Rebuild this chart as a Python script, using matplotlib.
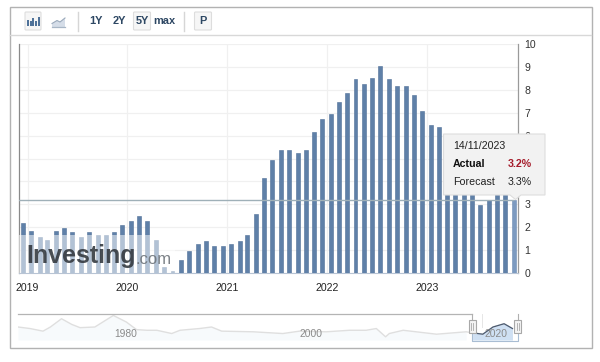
import matplotlib
matplotlib.use("Agg")
import matplotlib.pyplot as plt
from matplotlib.patches import Rectangle, Polygon, FancyBboxPatch
import pandas as pd
import numpy as np

plt.rcParams['font.family'] = ['Liberation Sans', 'DejaVu Sans']

# ---------- data ----------
values = [2.17, 1.85, 1.57, 1.45, 1.85, 1.96, 1.78, 1.57, 1.78, 1.66, 1.66, 1.78,
          2.08, 2.27, 2.47, 2.27, 1.45, 0.28, 0.09, 0.57, 0.96, 1.27, 1.38, 1.18,
          1.18, 1.27, 1.38, 1.66, 2.56, 4.15, 4.93, 5.37, 5.37, 5.26, 5.37, 6.16,
          6.74, 6.94, 7.45, 7.85, 8.47, 8.27, 8.53, 9.05, 8.46, 8.15, 8.15, 7.76,
          7.06, 6.46, 6.36, 5.6, 5.2, 4.6, 4.0, 2.95, 3.19, 3.5, 3.6, 3.2]
months = pd.date_range("2018-12-01", periods=len(values), freq="MS") + pd.Timedelta(days=13)
year_labels = [2019, 2020, 2021, 2022, 2023]
y_ticks = list(range(0, 11))
y_ticks_behind_tooltip = [4, 5]
crosshair_value = 3.2

nav_years = [1968.4, 1969.7, 1971.1, 1971.9, 1973.1, 1974.2, 1975.1, 1976.7, 1978.7,
             1980.1, 1981.2, 1982.3, 1983.4, 1985.0, 1985.9, 1988.0, 1989.3, 1990.4,
             1993.8, 1997.0, 1998.8, 2001.7, 2004.2, 2006.0, 2007.1, 2008.1, 2008.5,
             2010.0, 2011.4, 2013.6, 2016.8, 2017.5, 2018.6, 2019.7, 2020.9, 2021.8]
nav_values = [7.8, 7.1, 5.9, 7.8, 11.6, 9.0, 7.5, 7.8, 13.1,
              10.1, 6.6, 6.3, 6.3, 4.8, 6.3, 7.1, 7.8, 5.9,
              5.6, 4.8, 5.9, 5.6, 6.3, 6.3, 7.1, 3.3, 4.8,
              6.3, 5.6, 4.5, 5.6, 5.1, 4.5, 7.8, 9.3, 7.1]
nav_labels = [1980, 2000, 2020]
nav_sel_start = 2017.3

tip_date = "14/11/2023"
tip_actual = "3.2%"
tip_forecast = "3.3%"
range_buttons = ["1Y", "2Y", "5Y", "max"]

W, H = 600, 362
fig = plt.figure(figsize=(W / 100, H / 100), dpi=100, facecolor="white")


def axes_px(x0, y0, x1, y1, **kw):
    return fig.add_axes([x0 / W, 1 - y1 / H, (x1 - x0) / W, (y1 - y0) / H], **kw)


# ---------- main chart ----------
ax = axes_px(18.5, 44, 518, 273)
ax.set_zorder(2)
ax.patch.set_alpha(0)
ax.bar(months[:-1], values[:-1], width=14.5, color="#5f80a8", edgecolor="#4f6f97",
       linewidth=0.4, zorder=3)
ax.bar(months[-1:], values[-1:], width=14.5, color="#7c9ac0", edgecolor="#6d8cb3",
       linewidth=0.4, zorder=3)
ax.set_ylim(0, 10)
ax.set_xlim(pd.Timestamp("2018-11-29"), pd.Timestamp("2023-11-29"))
ax.set_xticks([pd.Timestamp(f"{y}-01-01") for y in year_labels])
ax.set_xticklabels([str(y) for y in year_labels], fontsize=7.6, color="#222222")
ax.yaxis.tick_right()
ax.set_yticks(y_ticks)
ax.set_yticklabels(["" if v in y_ticks_behind_tooltip else str(v) for v in y_ticks],
                   fontsize=7.6, color="#333333")
ax.tick_params(axis="x", length=0, pad=7.5)
ax.tick_params(axis="y", length=0, pad=4.5)
ax.grid(True, color="#f0f0f0", linewidth=0.9, zorder=0)
ax.set_axisbelow(True)
ax.spines["top"].set_visible(False)
ax.spines["left"].set_color("#8a8a8a")
ax.spines["right"].set_color("#9a9a9a")
ax.spines["bottom"].set_color("#b8c4d4")
ax.spines["left"].set_linewidth(0.9)
ax.spines["right"].set_linewidth(0.9)
ax.axhline(crosshair_value, color="#9fb0b8", linewidth=1.0, zorder=4, xmax=0.99)

# ---------- navigator ----------
nav = axes_px(18, 313.5, 518, 344)
nav.set_zorder(2)
nav.patch.set_alpha(0)
nav.set_xlim(1968.4, 2022.4)
nav.set_ylim(0, 14)
ny = np.array(nav_years)
nv = np.array(nav_values)
sel = ny >= nav_sel_start
nav.fill_between(ny[~sel], 1.8, nv[~sel], color="#f7fafc", linewidth=0)
nav.plot(ny, nv, color="#dfdfdf", linewidth=1.0, zorder=2)
nav.fill_between(ny[sel], 1.8, nv[sel], color="#cfe0f3", linewidth=0, zorder=3)
nav.plot(ny[sel], nv[sel], color="#4b5a70", linewidth=0.9, zorder=4)
nav.set_xticks(nav_labels)
nav.set_xticklabels([])
nav.set_yticks([])
for s in nav.spines.values():
    s.set_visible(False)
nav.tick_params(length=0)
for yr in nav_labels:
    nav.text(yr, 4.5, str(yr), ha="center", va="center", fontsize=7.4,
             color="#8a8a8a", zorder=5)

# ---------- overlay in pixel coordinates ----------
ov = axes_px(0, 0, W, H)
ov.set_zorder(5)
ov.set_xlim(0, W)
ov.set_ylim(H, 0)
ov.axis("off")
ov.patch.set_alpha(0)

# frame
ov.add_patch(Rectangle((9.5, 7), 582, 341, fill=False, edgecolor="#b2b2b2", linewidth=1.0))
ov.plot([10, 591], [34.5, 34.5], color="#d8d8d8", linewidth=1.0)

# toolbar
btn = dict(facecolor="#f6f6f6", edgecolor="#dddddd", linewidth=0.8)
for x0, x1 in [(24, 42), (132.5, 151.5), (193.5, 212.5)]:
    ov.add_patch(FancyBboxPatch((x0 + 1, 12), x1 - x0 - 2, 18,
                                boxstyle="round,pad=0,rounding_size=1", **btn))
for x, h in [(26.5, 6), (29.5, 5), (32, 7.5), (35, 5), (37.5, 9)]:
    ov.add_patch(Rectangle((x, 25.5 - h), 2, h, color="#4f7299", linewidth=0))
ov.add_patch(Polygon([(52, 27), (52, 23.5), (57, 20.5), (60, 22), (65, 18), (65, 27)],
                     facecolor="#d5dde8", edgecolor="none"))
ov.plot([52, 57, 60, 65], [23.5, 20.5, 22, 18], color="#9aa9bb", linewidth=0.8)
ov.plot([52, 65], [27, 27], color="#a8b6c6", linewidth=0.9)
for x in [77.5, 183.5]:
    ov.plot([x, x], [12, 31], color="#d6d6d6", linewidth=1.0)
for label, x in zip(range_buttons, [96.5, 119, 142, 164.5]):
    ov.text(x, 20.5, label, ha="center", va="center", fontsize=7.9, fontweight="bold",
            color="#2d4763")
ov.text(203, 20.5, "P", ha="center", va="center", fontsize=7.9, fontweight="bold",
        color="#2d4763")

# watermark
ov.add_patch(Rectangle((19, 235), 156, 37.5, facecolor="white", alpha=0.52, linewidth=0))
ov.text(26.5, 263.5, "Investing", ha="left", va="baseline", fontsize=18, fontweight="bold",
        color="#30353b", alpha=0.88)
ov.text(135.5, 263.5, ".com", ha="left", va="baseline", fontsize=12, color="#6f757b", alpha=0.9)

# navigator chrome
ov.plot([18, 472], [313.5, 313.5], color="#b4b4b4", linewidth=0.9)
ov.plot([472, 472, 517.5, 517.5], [327, 340.5, 340.5, 327], color="#a9bdd3", linewidth=0.8)
for x in [472, 517.5]:
    ov.plot([x, x], [313.5, 320], color="#b0b0b0", linewidth=0.8)
    ov.add_patch(Rectangle((x - 3.5, 320), 7, 13, facecolor="#f4f4f4", edgecolor="#a8a8a8",
                           linewidth=0.8, zorder=6))
    for dx in (-1, 1):
        ov.plot([x + dx, x + dx], [323, 330], color="#a8a8a8", linewidth=0.6, zorder=7)
ov.plot([482, 482], [313.5, 327], color="#e6e6e6", linewidth=0.7)

# tooltip
ov.add_patch(Polygon([(443.5, 134), (545, 134), (545, 195), (521, 195), (515.5, 199.5),
                      (510, 195), (443.5, 195)], closed=True,
                     facecolor="#f2f2f2", edgecolor="#dddddd", linewidth=0.8, zorder=8))
tc = "#222222"
ov.text(453, 146, tip_date, ha="left", va="center", fontsize=7.7, color=tc, zorder=9)
ov.text(453, 164, "Actual", ha="left", va="center", fontsize=7.7, fontweight="bold",
        color="#111111", zorder=9)
ov.text(532, 164, tip_actual, ha="right", va="center", fontsize=7.7, fontweight="bold",
        color="#a51c2b", zorder=9)
ov.text(453, 182, "Forecast", ha="left", va="center", fontsize=7.7, color=tc, zorder=9)
ov.text(532, 182, tip_forecast, ha="right", va="center", fontsize=7.7, color=tc, zorder=9)

fig.savefig("out.png", dpi=100, facecolor="white")
